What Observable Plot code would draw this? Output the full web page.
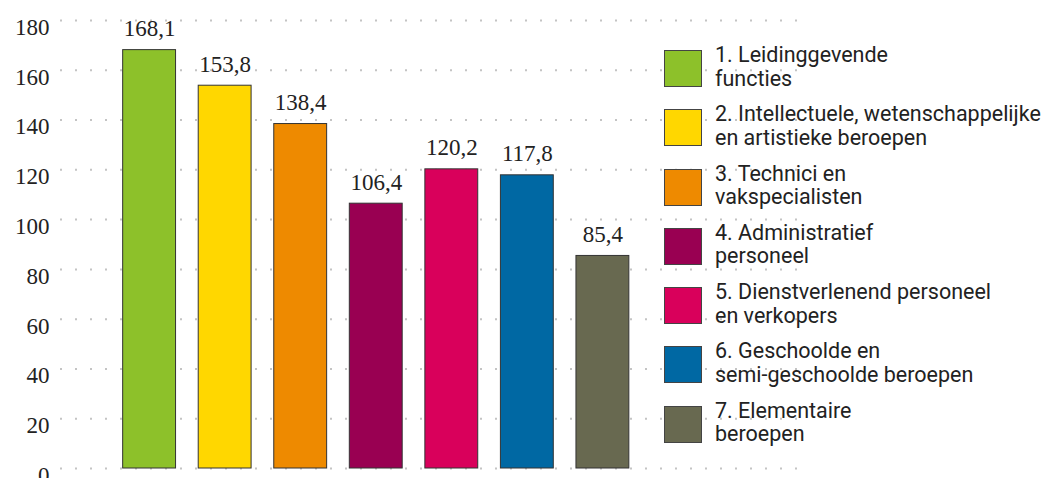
<!DOCTYPE html>
<html>
<head>
<meta charset="utf-8">
<script src="https://cdn.jsdelivr.net/npm/d3@7"></script>
<script src="https://cdn.jsdelivr.net/npm/@observablehq/plot@0.6"></script>
<style>
  html, body { margin: 0; padding: 0; background: #fff; }
  #wrap { position: relative; width: 1045px; height: 478px; overflow: hidden; }
  #legend { position: absolute; left: 664px; top: 50px; font-family: Roboto, sans-serif; font-size: 21.5px; color: #222; }
  .item { display: flex; align-items: flex-start; height: 59.3px; }
  .sw { width: 38px; height: 37px; box-sizing: border-box; border: 1px solid #444; flex: none; }
  .lab { margin-left: 13px; line-height: 23.5px; margin-top: -7px; white-space: nowrap; }
</style>
</head>
<body>
<div id="wrap"><div id="chart"></div><div id="legend"></div></div>
<script>
const categories = ["1", "2", "3", "4", "5", "6", "7"];
const legendLines = [
  ["1. Leidinggevende", "functies"],
  ["2. Intellectuele, wetenschappelijke", "en artistieke beroepen"],
  ["3. Technici en", "vakspecialisten"],
  ["4. Administratief", "personeel"],
  ["5. Dienstverlenend personeel", "en verkopers"],
  ["6. Geschoolde en", "semi-geschoolde beroepen"],
  ["7. Elementaire", "beroepen"]
];
const values = [168.1, 153.8, 138.4, 106.4, 120.2, 117.8, 85.4];
const colors = ["#8DC12A", "#FFD700", "#EE8A00", "#990052", "#D9005B", "#0068A3", "#686950"];
const yTicks = [0, 20, 40, 60, 80, 100, 120, 140, 160, 180];

const data = categories.map((c, i) => ({cat: c, value: values[i], color: colors[i]}));
const fmt = v => d3.format(".1f")(v).replace(".", ",");

const chart = Plot.plot({
  width: 1045,
  height: 478,
  marginLeft: 60,
  marginRight: 235,
  marginTop: 20,
  marginBottom: 10,
  style: {background: "transparent"},
  x: {domain: categories, range: [100, 651.5], padding: 0.3, round: false, axis: null},
  y: {domain: [0, 180], ticks: yTicks},
  color: {domain: categories, range: colors},
  marks: [
    Plot.ruleY(yTicks, {stroke: "#c4c4c4", strokeWidth: 2, strokeDasharray: "2,13"}),
    Plot.barY(data, {x: "cat", y: "value", fill: "color", stroke: "#333", strokeWidth: 1}),
    Plot.text(data, {x: "cat", y: "value", text: d => fmt(d.value), lineAnchor: "bottom", dy: -14,
      fontFamily: "Liberation Serif", fontSize: 23, fill: "#222", style: {letterSpacing: "0.3px"}}),
    Plot.axisY({ticks: yTicks, tickSize: 0, tickPadding: 11, dy: 7, fontFamily: "Liberation Serif",
      fontSize: 23, fill: "#222", label: null, tickFormat: d => String(d), style: {letterSpacing: "1px"}})
  ]
});
document.getElementById("chart").appendChild(chart);

const legend = document.getElementById("legend");
legendLines.forEach((lines, i) => {
  const item = document.createElement("div");
  item.className = "item";
  const sw = document.createElement("div");
  sw.className = "sw";
  sw.style.background = colors[i];
  const lab = document.createElement("div");
  lab.className = "lab";
  lab.innerHTML = lines.join("<br>");
  item.appendChild(sw);
  item.appendChild(lab);
  legend.appendChild(item);
});
</script>
</body>
</html>
